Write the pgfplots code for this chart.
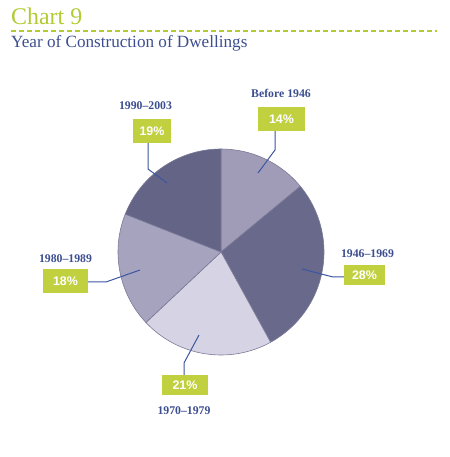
\documentclass[border=0pt]{standalone}
\usepackage{pgfplots}
\usepackage{pgfplotstable}
\pgfplotsset{compat=1.18}
\usepackage{fontspec}
\setmainfont{Liberation Serif}
\newfontfamily\pctfont{Liberation Sans}
\definecolor{titlegreen}{HTML}{B3CA34}
\definecolor{boxgreen}{HTML}{C0D03E}
\definecolor{labelblue}{HTML}{3C4E90}
\definecolor{lineblue}{HTML}{3A56A0}
\definecolor{cA}{HTML}{A09CB8}
\definecolor{cB}{HTML}{69698C}
\definecolor{cC}{HTML}{D6D4E4}
\definecolor{cD}{HTML}{A6A3BF}
\definecolor{cE}{HTML}{646487}
\definecolor{edge}{HTML}{7A7A98}

\pgfplotstableread{
value color
14 cA
28 cB
21 cC
18 cD
19 cE
}\piedata

\begin{document}
\begin{tikzpicture}
\begin{axis}[
  x=1bp, y=1bp,
  xmin=0, xmax=450, ymin=0, ymax=457,
  hide axis, clip=false,
]
\addplot[draw=none] coordinates {(0,0) (450,457)};
% pie slices from the table
\gdef\cum{0}
\pgfplotsforeachungrouped \i in {0,...,4}{
  \pgfplotstablegetelem{\i}{value}\of\piedata
  \let\v\pgfplotsretval
  \pgfplotstablegetelem{\i}{color}\of\piedata
  \let\col\pgfplotsretval
  \pgfmathsetmacro{\sa}{90-\cum*3.6}
  \pgfmathsetmacro{\ea}{90-(\cum+\v)*3.6}
  \edef\temp{\noexpand\filldraw[fill=\col, draw=edge, line width=0.6bp]
    (axis cs:221,205) -- ++(\sa:103bp) arc[start angle=\sa, end angle=\ea, radius=103bp] -- cycle;}
  \temp
  \pgfmathsetmacro{\newcum}{\cum+\v}
  \xdef\cum{\newcum}
}
% title
\node[anchor=base west, inner sep=0, text=titlegreen, font=\fontsize{24}{24}\selectfont] at (axis cs:11,432) {Chart 9};
\draw[titlegreen, line width=2bp, dash pattern=on 5bp off 3bp] (axis cs:11,425.5) -- (axis cs:437,425.5);
\node[anchor=base west, inner sep=0, text=labelblue, font=\fontsize{17.2}{17}\selectfont] at (axis cs:11,409) {Year of Construction of Dwellings};
% leader lines
\draw[lineblue, line width=1bp] (axis cs:275,326) -- (axis cs:275,307) -- (axis cs:258,284);
\draw[lineblue, line width=1bp] (axis cs:148,314) -- (axis cs:148,288) -- (axis cs:167,274);
\draw[lineblue, line width=1bp] (axis cs:344,180) -- (axis cs:333,180) -- (axis cs:302,188);
\draw[lineblue, line width=1bp] (axis cs:88,175) -- (axis cs:106,175) -- (axis cs:140,187);
\draw[lineblue, line width=1bp] (axis cs:184,82) -- (axis cs:184,94) -- (axis cs:199,122);
% boxes
\fill[boxgreen] (axis cs:258,326) rectangle (axis cs:305,350);
\fill[boxgreen] (axis cs:133,314) rectangle (axis cs:171,338);
\fill[boxgreen] (axis cs:344,172) rectangle (axis cs:385,192);
\fill[boxgreen] (axis cs:43,164) rectangle (axis cs:88,188);
\fill[boxgreen] (axis cs:162,62) rectangle (axis cs:208,82);
\tikzset{pct/.style={text=white, inner sep=0, font=\pctfont\bfseries\fontsize{12.5}{12.5}\selectfont}}
\node[pct] at (axis cs:281.5,338) {14\%};
\node[pct] at (axis cs:152,326) {19\%};
\node[pct] at (axis cs:364.5,182) {28\%};
\node[pct] at (axis cs:65.5,176) {18\%};
\node[pct] at (axis cs:185,72) {21\%};
% labels
\tikzset{lab/.style={anchor=base, inner sep=0, text=labelblue, font=\bfseries\fontsize{11.8}{11.8}\selectfont}}
\node[lab] at (axis cs:281,359) {Before 1946};
\node[lab] at (axis cs:145.5,347) {1990--2003};
\node[lab] at (axis cs:367.5,199) {1946--1969};
\node[lab] at (axis cs:65.5,194) {1980--1989};
\node[lab] at (axis cs:184,42) {1970--1979};
\end{axis}
\end{tikzpicture}
\end{document}
